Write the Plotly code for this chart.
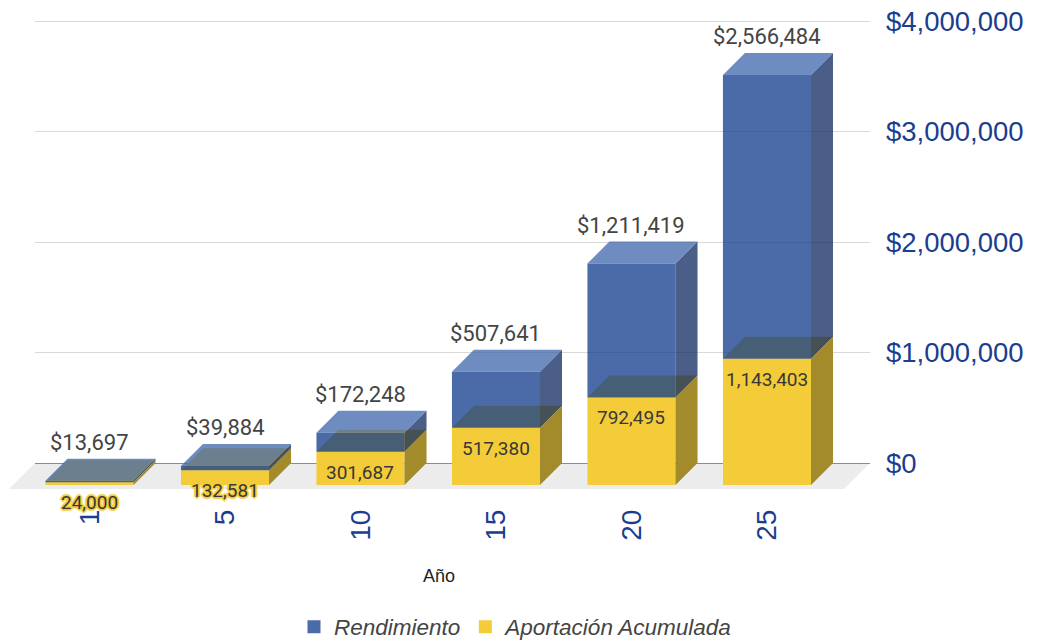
import plotly.graph_objects as go

# ---------------- data ----------------
years = ["1", "5", "10", "15", "20", "25"]
aportacion = [24000, 132581, 301687, 517380, 792495, 1143403]
rendimiento = [13697, 39884, 172248, 507641, 1211419, 2566484]
y_tick_vals = [0, 1000000, 2000000, 3000000, 4000000]
y_tick_text = ["$0", "$1,000,000", "$2,000,000", "$3,000,000", "$4,000,000"]
series_names = ["Rendimiento", "Aportación Acumulada"]

# ---------------- layout geometry ----------------
PAGE_OFF = 8  # default body margin of the html page
W, H = 1037 - PAGE_OFF, 641 - PAGE_OFF
ml, mr, mt, mb = 35 - PAGE_OFF, 167, 11 - PAGE_OFF, 152
plot_w = W - ml - mr
plot_h = H - mt - mb
x_range = [-0.5646, 5.598]
y_range = [-235294, 4090500]
px_x = plot_w / (x_range[1] - x_range[0])
px_y = plot_h / (y_range[1] - y_range[0])
depth_px = 22
dx = depth_px / px_x
dy = depth_px / px_y
half = 0.325  # half bar width (category units)

BLUE_LEG = "#4a6aa8"
YEL = "#f4cc3a"
YEL_SIDE = "#a38b2c"
YEL_TOP = "#f0c93a"
BLUE_FRONT = "rgba(14,58,139,0.75)"
BLUE_SIDE = "rgba(14,40,96,0.75)"
BLUE_TOP = "rgba(63,102,171,0.75)"
AXIS_BLUE = "#1a3d8f"


def faces(bottoms, tops):
    fx, fy, sx, sy, tx, ty = [], [], [], [], [], []
    for i, (b, t) in enumerate(zip(bottoms, tops)):
        xc = i
        x0, x1 = xc - half - dx, xc + half - dx
        y0, y1 = b - dy, t - dy
        fx += [x0, x1, x1, x0, x0, None]
        fy += [y0, y0, y1, y1, y0, None]
        sx += [x1, x1 + dx, x1 + dx, x1, x1, None]
        sy += [y0, b, t, y1, y0, None]
        tx += [x0, x1, x1 + dx, x0 + dx, x0, None]
        ty += [y1, y1, t, t, y1, None]
    return (fx, fy), (sx, sy), (tx, ty)


def poly(xy, color):
    return go.Scatter(x=xy[0], y=xy[1], mode="lines", fill="toself",
                      fillcolor=color, line=dict(width=0), showlegend=False,
                      hoverinfo="skip")


zeros = [0] * len(years)
totals = [a + r for a, r in zip(aportacion, rendimiento)]

fig = go.Figure()
yf, ys, yt = faces(zeros, aportacion)
fig.add_trace(poly(yf, YEL))
fig.add_trace(poly(ys, YEL_SIDE))
fig.add_trace(poly(yt, YEL_TOP))
bf, bs, bt = faces(aportacion, totals)
fig.add_trace(poly(bf, BLUE_FRONT))
fig.add_trace(poly(bs, BLUE_SIDE))
fig.add_trace(poly(bt, BLUE_TOP))

# legend entries
for name, col in zip(series_names, [BLUE_LEG, YEL]):
    fig.add_trace(go.Scatter(x=[None], y=[None], mode="markers", name=name,
                             marker=dict(symbol="square", size=13, color=col)))

glow = ", ".join(f"{a}px {b}px 1px {YEL}" for a, b in
                 [(-1, -1), (1, -1), (-1, 1), (1, 1), (0, 2), (0, -2), (2, 0), (-2, 0)])

annotations = []
for i in range(len(years)):
    annotations.append(dict(
        x=i - dx, y=totals[i], xref="x", yref="y", text=f"${rendimiento[i]:,}",
        showarrow=False, yanchor="bottom", yshift=2,
        font=dict(family="Roboto", size=22, color="#444444")))
    annotations.append(dict(
        x=i - dx, y=aportacion[i] - dy, xref="x", yref="y", text=f"{aportacion[i]:,}",
        showarrow=False, yanchor="top", yshift=-7,
        font=dict(family="Roboto", size=19, color="#383838", shadow=glow)))

plot_bottom = mt + plot_h
annotations.append(dict(
    x=(439 - PAGE_OFF - ml) / plot_w, y=-(576 - PAGE_OFF - plot_bottom) / plot_h,
    xref="paper", yref="paper",
    text="Año", showarrow=False, yanchor="middle", xanchor="center",
    font=dict(family="Liberation Sans", size=18, color="#222222")))

y0_paper = (0 - y_range[0]) / (y_range[1] - y_range[0])
floor_depth = 26
fdx = floor_depth / plot_w
floor_path = (f"M 0 {y0_paper} L 1 {y0_paper} L {1 - fdx} 0 L {-fdx} 0 Z")

fig.update_layout(
    width=W, height=H,
    margin=dict(l=ml, r=mr, t=mt, b=mb, autoexpand=False),
    paper_bgcolor="white", plot_bgcolor="white",
    showlegend=True,
    legend=dict(orientation="h", x=(516 - PAGE_OFF - ml) / plot_w, xanchor="center",
                y=-(627 - PAGE_OFF - plot_bottom) / plot_h, yanchor="middle",
                font=dict(family="Liberation Sans", size=22.5, color="#444444", style="italic"),
                itemwidth=30, bgcolor="rgba(0,0,0,0)"),
    xaxis=dict(range=x_range, showgrid=False, zeroline=False, showline=False,
               tickmode="array", tickvals=[i - dx for i in range(len(years))],
               ticktext=years, tickangle=-90, ticks="", automargin=False,
               tickfont=dict(family="Liberation Sans", size=28, color=AXIS_BLUE),
               ticklabelstandoff=14, ticklabeloverflow="allow", fixedrange=True),
    yaxis=dict(range=y_range, side="right", tickmode="array", tickvals=y_tick_vals,
               ticktext=y_tick_text, showgrid=True, gridcolor="#d9d9d9", gridwidth=1,
               zeroline=True, zerolinecolor="#8c8c8c", zerolinewidth=1.3,
               showline=False, ticks="", automargin=False,
               tickfont=dict(family="Liberation Sans", size=27.5, color=AXIS_BLUE),
               ticklabelstandoff=15, ticklabeloverflow="allow", fixedrange=True),
    shapes=[dict(type="path", path=floor_path, xref="paper", yref="paper",
                 fillcolor="#ececec", line=dict(width=0), layer="below")],
    annotations=annotations,
)

fig.write_html("out.html", config={"displayModeBar": False})
